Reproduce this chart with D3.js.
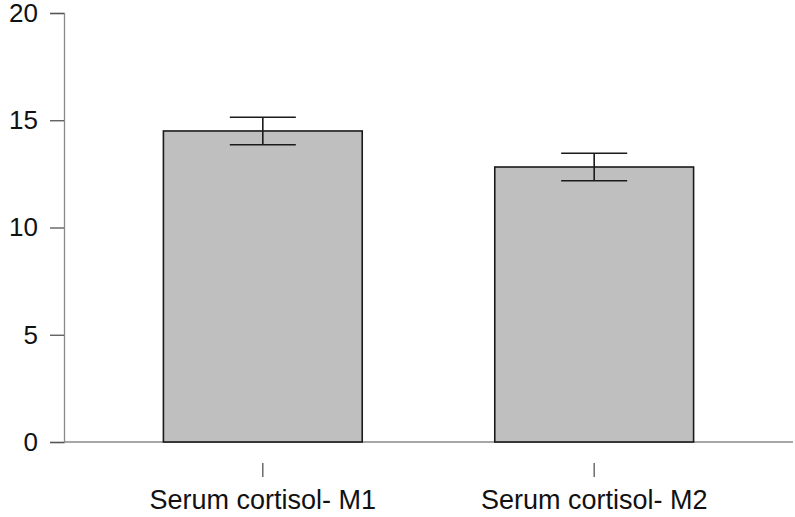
<!DOCTYPE html>
<html>
<head>
<meta charset="utf-8">
<script src="https://cdn.jsdelivr.net/npm/d3@7"></script>
<style>
  html, body { margin: 0; padding: 0; background: #fff; }
  svg { display: block; }
  text { font-family: "Liberation Sans", Arial, sans-serif; fill: #111; }
</style>
</head>
<body>
<svg id="chart" width="795" height="517"></svg>
<script>
// Serum cortisol means with standard error
const categories = ["Serum cortisol- M1", "Serum cortisol- M2"];
const means = [14.5, 12.82];
const errors = [0.64, 0.64];
const yTicks = [0, 5, 10, 15, 20];

const svg = d3.select("#chart");
const plotLeft = 64, plotRight = 793, plotTop = 13, plotBottom = 442;

const y = d3.scaleLinear().domain([0, 20]).range([plotBottom, plotTop]);
const x = d3.scaleBand().domain(categories).range([plotLeft, plotRight])
  .paddingInner(0.4).paddingOuter(0.3);

// y axis
const yAxis = svg.append("g").attr("transform", `translate(${plotLeft},0)`)
  .call(d3.axisLeft(y).tickValues(yTicks).tickSize(14).tickPadding(12));
yAxis.select(".domain").attr("stroke", "#8a8a8a").attr("stroke-width", 1.3);
yAxis.selectAll(".tick line").attr("stroke", "#555").attr("stroke-width", 1.3);
yAxis.selectAll(".tick text").attr("font-size", 26).attr("fill", "#111")
  .attr("font-family", "Liberation Sans, Arial, sans-serif");

// x baseline
svg.append("line").attr("x1", plotLeft).attr("x2", plotRight)
  .attr("y1", plotBottom).attr("y2", plotBottom)
  .attr("stroke", "#8a8a8a").attr("stroke-width", 1.3);

// bars
const data = categories.map((c, i) => ({ c, m: means[i], e: errors[i] }));
svg.selectAll("rect.bar").data(data).join("rect")
  .attr("class", "bar")
  .attr("x", d => x(d.c))
  .attr("width", x.bandwidth())
  .attr("y", d => y(d.m))
  .attr("height", d => y(0) - y(d.m))
  .attr("fill", "#bfbfbf")
  .attr("stroke", "#1a1a1a")
  .attr("stroke-width", 1.6);

// error bars
const cap = 33;
const cx = d => x(d.c) + x.bandwidth() / 2;
const eb = svg.selectAll("g.err").data(data).join("g").attr("class", "err")
  .attr("stroke", "#1a1a1a").attr("stroke-width", 1.6);
eb.append("line")
  .attr("x1", cx).attr("x2", cx)
  .attr("y1", d => y(d.m + d.e)).attr("y2", d => y(d.m - d.e));
eb.append("line")
  .attr("x1", d => cx(d) - cap).attr("x2", d => cx(d) + cap)
  .attr("y1", d => y(d.m + d.e)).attr("y2", d => y(d.m + d.e));
eb.append("line")
  .attr("x1", d => cx(d) - cap).attr("x2", d => cx(d) + cap)
  .attr("y1", d => y(d.m - d.e)).attr("y2", d => y(d.m - d.e));

// category ticks and labels
const xAxis = svg.append("g").attr("transform", `translate(0,463)`)
  .call(d3.axisBottom(x).tickSize(14).tickPadding(13));
xAxis.select(".domain").remove();
xAxis.selectAll(".tick line").attr("stroke", "#555").attr("stroke-width", 1.3);
xAxis.selectAll(".tick text").attr("font-size", 27).attr("fill", "#111")
  .attr("font-family", "Liberation Sans, Arial, sans-serif");
</script>
</body>
</html>
